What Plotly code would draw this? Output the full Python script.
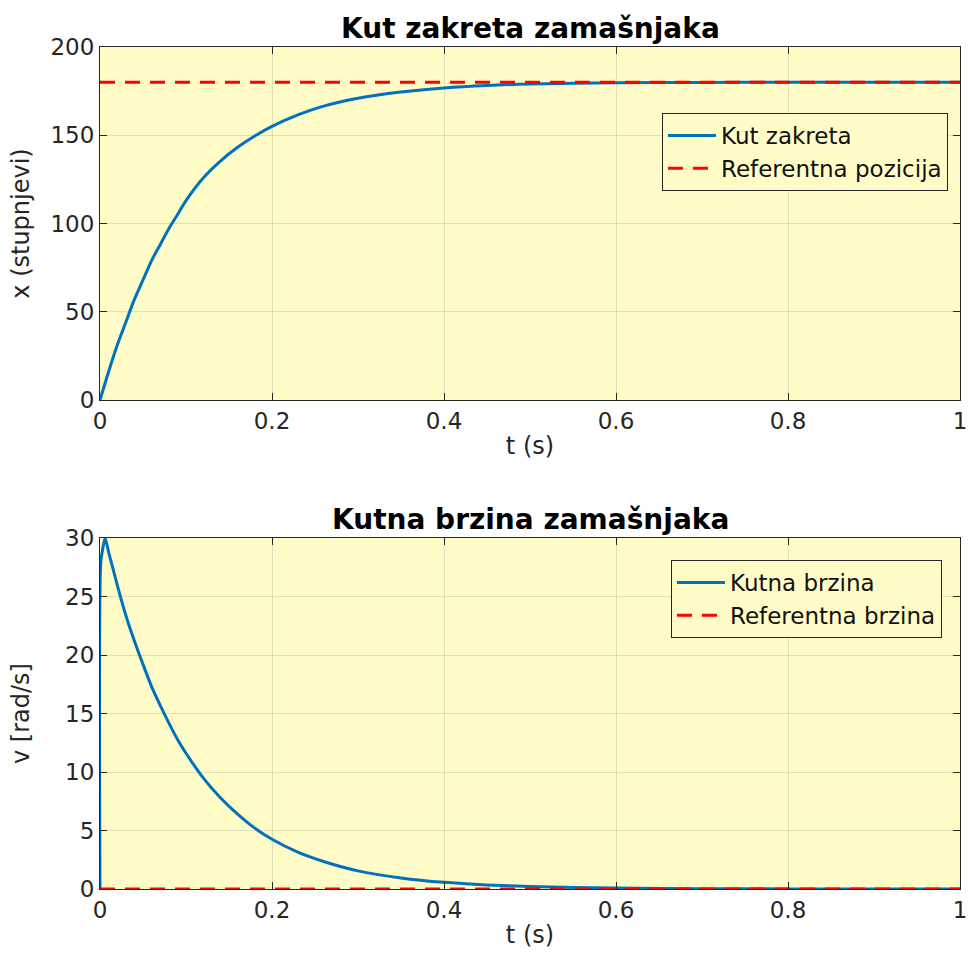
import plotly.graph_objects as go
from plotly.subplots import make_subplots

# ---- data ----
t_pos = [0, 0.01, 0.02, 0.03, 0.04, 0.05, 0.06, 0.07, 0.08, 0.09, 0.10, 0.12, 0.14, 0.16,
         0.18, 0.20, 0.23, 0.26, 0.30, 0.35, 0.40, 0.45, 0.50, 0.60, 0.70, 0.80, 0.90, 1.0]
x_pos = [0, 16, 31, 44, 57, 68, 79, 88, 97, 105, 113, 125.8, 135.4, 143.2,
         149.6, 155, 161.5, 166.5, 171, 174.5, 176.8, 178.2, 179, 179.7, 179.9, 180, 180, 180]
ref_pos_t = [0, 1]
ref_pos = [180, 180]

t_vel = [0, 0.001, 0.006, 0.01, 0.015, 0.02, 0.03, 0.04, 0.05, 0.06, 0.07, 0.08, 0.09, 0.10, 0.12,
         0.14, 0.16, 0.18, 0.20, 0.23, 0.26, 0.30, 0.35, 0.40, 0.45, 0.50, 0.60, 0.70, 0.80, 0.90, 1.0]
v_vel = [0, 28, 30, 28.8, 27.4, 26.0, 23.4, 21.2, 19.2, 17.3, 15.7, 14.2, 12.8, 11.6, 9.5,
         7.8, 6.4, 5.2, 4.25, 3.15, 2.35, 1.55, 0.95, 0.57, 0.35, 0.21, 0.08, 0.03, 0.01, 0.0, 0.0]
ref_vel_t = [0, 1]
ref_vel = [0, 0]

x_ticks = [0, 0.2, 0.4, 0.6, 0.8, 1]
x_ticklabels = ["0", "0.2", "0.4", "0.6", "0.8", "1"]
y1_ticks = [0, 50, 100, 150, 200]
y2_ticks = [0, 5, 10, 15, 20, 25, 30]

BLUE = "#0072BD"
RED = "#FF0000"
BG = "#FFFCC8"
FONT = "DejaVu Sans"
TXT = "#262626"

fig = make_subplots(rows=2, cols=1, vertical_spacing=0.0)

fig.add_trace(go.Scatter(x=t_pos, y=x_pos, mode="lines", name="Kut zakreta",
                         line=dict(color=BLUE, width=3, shape="spline", smoothing=0.8),
                         legend="legend"), row=1, col=1)
fig.add_trace(go.Scatter(x=ref_pos_t, y=ref_pos, mode="lines", name="Referentna pozicija",
                         line=dict(color=RED, width=3, dash="15px,10px"), legend="legend"), row=1, col=1)
fig.add_trace(go.Scatter(x=t_vel, y=v_vel, mode="lines", name="Kutna brzina",
                         line=dict(color=BLUE, width=3, shape="spline", smoothing=0.5),
                         legend="legend2"), row=2, col=1)
fig.add_trace(go.Scatter(x=ref_vel_t, y=ref_vel, mode="lines", name="Referentna brzina",
                         line=dict(color=RED, width=3, dash="15px,10px"), legend="legend2"), row=2, col=1)

W = 970
H = 964
top_margin = 47
bot_margin = H - 889
ph = H - top_margin - bot_margin

def fy(py):
    return (H - bot_margin - py) / ph

axis_common = dict(showline=True, linecolor=TXT, linewidth=1, mirror="ticks",
                   ticks="inside", ticklen=7, tickcolor=TXT, automargin=False,
                   showgrid=True, gridcolor="rgba(120,120,120,0.22)", gridwidth=1,
                   zeroline=False, tickfont=dict(family=FONT, size=23, color=TXT))

fig.update_xaxes(range=[0, 1], tickvals=x_ticks, ticktext=x_ticklabels, **axis_common)
fig.update_yaxes(**axis_common)

LBL = dict(family=FONT, size=24, color=TXT)

fig.update_layout(
    xaxis=dict(domain=[0, 1], anchor="y", title=dict(text="t (s)", font=LBL, standoff=4)),
    yaxis=dict(domain=[fy(400), 1], range=[0, 200], tickvals=y1_ticks,
               title=dict(text="x (stupnjevi)", font=LBL, standoff=14)),
    xaxis2=dict(domain=[0, 1], anchor="y2", title=dict(text="t (s)", font=LBL, standoff=4)),
    yaxis2=dict(domain=[0, fy(538)], range=[0, 30], tickvals=y2_ticks,
                title=dict(text="v [rad/s]", font=LBL, standoff=28)),
    plot_bgcolor=BG,
    paper_bgcolor="white",
    width=W, height=H,
    margin=dict(l=100, r=10, t=top_margin, b=bot_margin, autoexpand=False),
    font=dict(family=FONT, color=TXT),
    legend=dict(x=0.986, y=fy(113), xanchor="right", yanchor="top", xref="paper", yref="paper",
                bgcolor=BG, bordercolor=TXT, borderwidth=1,
                font=dict(family=FONT, size=23, color="#111111"), tracegroupgap=0,
                itemwidth=48),
    legend2=dict(x=0.979, y=fy(560), xanchor="right", yanchor="top", xref="paper", yref="paper",
                 bgcolor=BG, bordercolor=TXT, borderwidth=1,
                 font=dict(family=FONT, size=23, color="#111111"), tracegroupgap=0,
                 itemwidth=48),
    showlegend=True,
    annotations=[
        dict(text="<b>Kut zakreta zamašnjaka</b>", x=0.5, y=1, xref="paper", yref="paper",
             xanchor="center", yanchor="bottom", yshift=0, showarrow=False,
             font=dict(family=FONT, size=28, color="black")),
        dict(text="<b>Kutna brzina zamašnjaka</b>", x=0.5, y=fy(538), xref="paper", yref="paper",
             xanchor="center", yanchor="bottom", yshift=0, showarrow=False,
             font=dict(family=FONT, size=28, color="black")),
    ],
)

fig.write_html("out.html", config={"displayModeBar": False},
               post_script="document.body.style.margin='0';document.body.style.overflow='hidden';")
